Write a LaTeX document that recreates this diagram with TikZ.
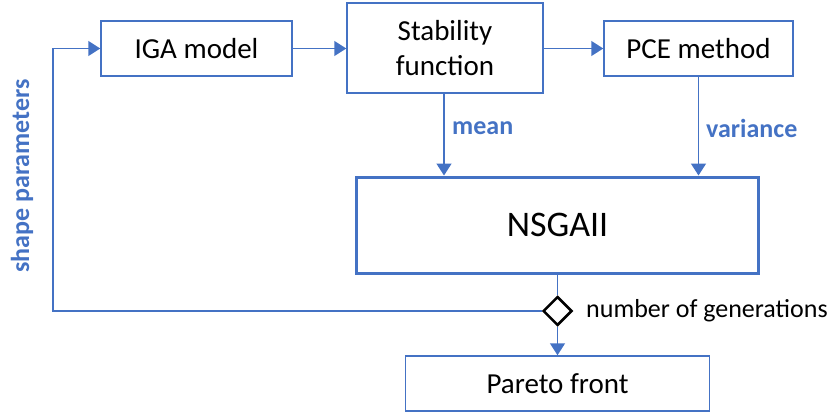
\documentclass[tikz,border=0pt]{standalone}
\usepackage{fontspec}
\setmainfont{Carlito}
\usetikzlibrary{arrows.meta,shapes.geometric}
\definecolor{obl}{HTML}{4472C4}
\tikzset{
  box/.style={draw=obl, line width=1.5pt, inner sep=0pt, font=\fontsize{29}{35}\selectfont, align=center},
  conn/.style={draw=obl, line width=1.5pt},
  arr/.style={conn, -{Triangle[length=12pt,width=15pt]}},
  lbl/.style={text=obl, font=\fontsize{26}{30}\selectfont\bfseries, inner sep=0pt},
}
\begin{document}
\begin{tikzpicture}[x=1pt,y=-1pt]
\useasboundingbox (0,0) rectangle (838,412);
\node[box, minimum width=191pt, minimum height=55pt] (iga) at (196.5,48.5) {IGA model};
\node[box, minimum width=196pt, minimum height=90pt] (stab) at (445,48) {Stability\\function};
\node[box, minimum width=189pt, minimum height=55pt] (pce) at (698.5,48.5) {PCE method};
\node[box, line width=3pt, minimum width=402pt, minimum height=96pt, font=\fontsize{36}{40}\selectfont] (nsga) at (557.5,225) {NSGAII};
\node[diamond, draw=black, line width=2.5pt, inner sep=0pt, minimum width=29pt, minimum height=29pt] (dia) at (557.5,311) {};
\node[box, minimum width=304pt, minimum height=55pt] (par) at (557.5,383.5) {Pareto front};
\coordinate (cl) at (53,311);
\coordinate (cu) at (53,48.5);
\draw[arr] (iga) -- (iga.east -| stab.west);
\draw[arr] (stab.east |- pce.west) -- (pce.west);
\draw[arr] (stab.south -| 444,0) -- (444,0 |- nsga.north);
\draw[arr] (pce.south) -- (pce.south |- nsga.north);
\draw[conn] (nsga.south) -- (dia.north);
\draw[arr] (dia.south) -- (par.north);
\draw[arr] (dia.west) -- (cl) -- (cu) -- (iga.west);
\node[lbl, anchor=west] (lmean) at (452,128) {mean};
\node[lbl, anchor=west] (lvar) at (706,128) {variance};
\node[anchor=west, inner sep=0pt, font=\fontsize{26}{30}\selectfont] (lgen) at (586,311) {number of generations};
\node[lbl, rotate=90] (lshape) at (22,176) {shape parameters};
\end{tikzpicture}
\end{document}
